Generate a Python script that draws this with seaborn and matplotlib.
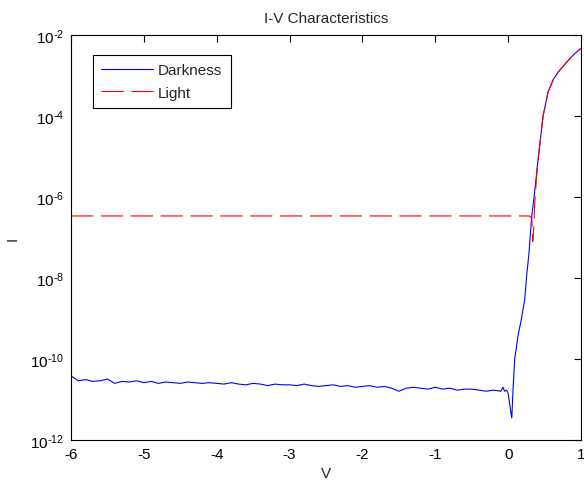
import numpy as np
import pandas as pd
import seaborn as sns
import matplotlib.pyplot as plt
import matplotlib.ticker as mticker

# --- Data (V in volts, I in amps) ---
DARK_V = [-6.0, -5.9, -5.8, -5.7, -5.6, -5.5, -5.4, -5.3, -5.2, -5.1,
          -5.0, -4.9, -4.8, -4.7, -4.6, -4.5, -4.4, -4.3, -4.2, -4.1,
          -4.0, -3.9, -3.8, -3.7, -3.6, -3.5, -3.4, -3.3, -3.2, -3.1,
          -3.0, -2.9, -2.8, -2.7, -2.6, -2.5, -2.4, -2.3, -2.2, -2.1,
          -2.0, -1.9, -1.8, -1.7, -1.6, -1.5, -1.4, -1.3, -1.2, -1.1,
          -1.0, -0.9, -0.8, -0.7, -0.6, -0.5, -0.4, -0.3, -0.2, -0.1,
          -0.07, -0.05, -0.02, 0.0, 0.02, 0.035, 0.05, 0.067, 0.081, 0.09,
          0.136, 0.182, 0.228, 0.251, 0.287, 0.32, 0.356, 0.397, 0.433,
          0.479, 0.548, 0.62, 0.685, 0.80, 0.90, 1.0]
DARK_I = [3.8e-11, 2.9e-11, 3.1e-11, 2.8e-11, 2.9e-11, 3.2e-11, 2.5e-11, 2.8e-11, 2.7e-11, 2.9e-11,
          2.6e-11, 2.8e-11, 2.5e-11, 2.7e-11, 2.6e-11, 2.5e-11, 2.7e-11, 2.6e-11, 2.5e-11, 2.6e-11,
          2.5e-11, 2.4e-11, 2.6e-11, 2.4e-11, 2.3e-11, 2.5e-11, 2.4e-11, 2.2e-11, 2.4e-11, 2.3e-11,
          2.3e-11, 2.2e-11, 2.4e-11, 2.2e-11, 2.1e-11, 2.2e-11, 2.3e-11, 2.1e-11, 2.2e-11, 2.0e-11,
          2.1e-11, 2.2e-11, 2.0e-11, 2.1e-11, 1.9e-11, 1.6e-11, 1.9e-11, 2.0e-11, 1.9e-11, 1.8e-11,
          2.0e-11, 1.8e-11, 1.9e-11, 1.7e-11, 1.8e-11, 1.8e-11, 1.7e-11, 1.6e-11, 1.7e-11, 1.6e-11,
          2.0e-11, 1.6e-11, 1.7e-11, 1.4e-11, 8.0e-12, 5.0e-12, 3.5e-12, 1.8e-11, 5.1e-11, 1.0e-10,
          3.8e-10, 9.8e-10, 3.0e-9, 1.0e-8, 4.4e-8, 2.9e-7, 1.0e-6, 4.9e-6, 1.9e-5,
          1.0e-4, 3.9e-4, 8.0e-4, 1.2e-3, 2.1e-3, 3.3e-3, 4.7e-3]

LIGHT_V = [-6.0, -3.0, 0.0, 0.289, 0.324, 0.338, 0.35, 0.365, 0.397, 0.433,
           0.479, 0.548, 0.62, 0.685, 0.80, 0.90, 1.0]
LIGHT_I = [3.4e-7, 3.4e-7, 3.4e-7, 3.4e-7, 3.0e-7, 8.0e-8, 1.6e-7, 7.0e-7, 4.9e-6, 1.9e-5,
           1.0e-4, 3.9e-4, 8.0e-4, 1.2e-3, 2.1e-3, 3.3e-3, 4.7e-3]

X_TICKS = [-6, -5, -4, -3, -2, -1, 0, 1]
Y_EXPONENTS = [-12, -10, -8, -6, -4, -2]

TITLE = "I-V Characteristics"
FONT_SIZE = 11


def main():
    sns.set_style("white")
    plt.rcParams['font.family'] = ['Liberation Sans', 'DejaVu Sans']
    plt.rcParams['lines.scale_dashes'] = False

    dark = pd.DataFrame({'V': DARK_V, 'I': DARK_I})
    light = pd.DataFrame({'V': LIGHT_V, 'I': LIGHT_I})

    fig = plt.figure(figsize=(5.84, 4.81), dpi=100)
    ax = fig.add_axes([0.1216, 0.0832, 0.8733, 0.842])

    sns.lineplot(x='V', y='I', data=dark, ax=ax, color='#0000ff',
                 linewidth=0.8, label='Darkness', sort=False)
    sns.lineplot(x='V', y='I', data=light, ax=ax, color='#ff0000',
                 linewidth=0.8, label='Light', sort=False,
                 linestyle=(0, (16, 5.5)))

    ax.set_yscale('log')
    ax.set_xlim(-6, 1)
    ax.set_ylim(1e-12, 1e-2)
    ax.set_xticks(X_TICKS)
    ax.set_yticks([10.0 ** e for e in Y_EXPONENTS])
    ax.yaxis.set_minor_locator(mticker.NullLocator())
    ax.yaxis.set_major_formatter(mticker.FuncFormatter(
        lambda y, p: r'$\mathregular{10^{\text{-}%d}}$' % abs(round(np.log10(y)))))
    ax.xaxis.set_major_formatter(mticker.FuncFormatter(lambda x, p: '%d' % x))

    ax.tick_params(direction='in', length=5, width=0.8, top=True, right=True,
                   labelsize=FONT_SIZE, colors='black', pad=5)
    for spine in ax.spines.values():
        spine.set_color('black')
        spine.set_linewidth(0.8)

    ax.set_title(TITLE, fontsize=FONT_SIZE, pad=9)
    ax.set_xlabel('V', fontsize=FONT_SIZE, labelpad=4)
    ax.set_ylabel('I', fontsize=FONT_SIZE, labelpad=7)

    leg = ax.legend(loc='upper left', bbox_to_anchor=(0.043, 0.951),
                    borderaxespad=0, fancybox=False, fontsize=FONT_SIZE,
                    handlelength=3.4, handletextpad=0.3, framealpha=1,
                    borderpad=0.55, labelspacing=0.55)
    leg.get_frame().set_edgecolor('black')
    leg.get_frame().set_linewidth(0.8)

    fig.savefig('out.png', dpi=100)
    plt.close(fig)


if __name__ == "__main__":
    main()
